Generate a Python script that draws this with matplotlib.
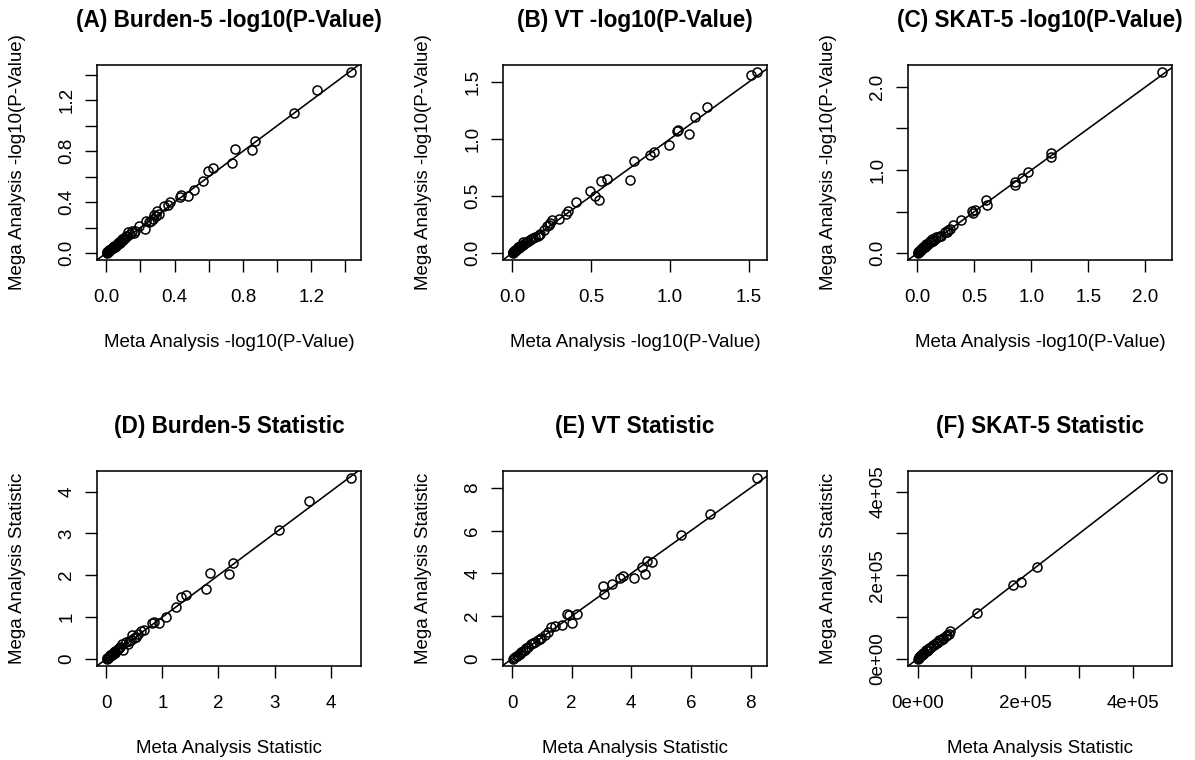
import matplotlib
matplotlib.use("Agg")
import matplotlib.pyplot as plt

plt.rcParams['font.family'] = ['Liberation Sans', 'DejaVu Sans']

# ---------------- data ----------------
A_meta = [1.434, 1.235, 1.100, 0.869, 0.851, 0.753, 0.734, 0.626, 0.595, 0.569,
          0.515, 0.476, 0.436, 0.430, 0.374, 0.362, 0.339, 0.309, 0.299, 0.290,
          0.280, 0.274, 0.260, 0.250, 0.231, 0.225, 0.192, 0.170, 0.162, 0.153,
          0.140, 0.129, 0.120, 0.114, 0.105, 0.094, 0.085, 0.074, 0.066, 0.060,
          0.055, 0.048, 0.042, 0.035, 0.030, 0.025, 0.020, 0.016, 0.012, 0.008,
          0.006, 0.003, 0.110, 0.098, 0.088, 0.078, 0.070, 0.052, 0.044, 0.038,
          0.028, 0.022, 0.018, 0.010, 0.004]
A_mega = [1.421, 1.282, 1.099, 0.879, 0.813, 0.818, 0.708, 0.666, 0.648, 0.569,
          0.498, 0.451, 0.459, 0.443, 0.399, 0.378, 0.367, 0.307, 0.333, 0.294,
          0.300, 0.268, 0.254, 0.240, 0.254, 0.189, 0.215, 0.170, 0.157, 0.176,
          0.150, 0.168, 0.130, 0.136, 0.120, 0.110, 0.098, 0.084, 0.080, 0.066,
          0.058, 0.055, 0.045, 0.037, 0.034, 0.028, 0.022, 0.018, 0.015, 0.010,
          0.006, 0.002, 0.118, 0.104, 0.092, 0.080, 0.072, 0.050, 0.048, 0.040,
          0.030, 0.020, 0.024, 0.012, 0.008]

B_meta = [1.553, 1.515, 1.235, 1.157, 1.117, 1.049, 1.044, 0.992, 0.896, 0.871,
          0.771, 0.748, 0.600, 0.561, 0.547, 0.521, 0.494, 0.403, 0.350, 0.341,
          0.297, 0.250, 0.240, 0.229, 0.218, 0.200, 0.176, 0.168, 0.159, 0.145,
          0.133, 0.120, 0.112, 0.100, 0.090, 0.080, 0.070, 0.059, 0.050, 0.045,
          0.038, 0.030, 0.025, 0.017, 0.010, 0.006, 0.002, 0.065, 0.055, 0.042,
          0.034, 0.020, 0.014, 0.004]
B_mega = [1.585, 1.558, 1.281, 1.193, 1.044, 1.082, 1.067, 0.950, 0.883, 0.863,
          0.810, 0.643, 0.649, 0.635, 0.462, 0.497, 0.541, 0.450, 0.365, 0.342,
          0.298, 0.287, 0.262, 0.249, 0.234, 0.200, 0.170, 0.160, 0.146, 0.140,
          0.132, 0.125, 0.117, 0.105, 0.095, 0.085, 0.094, 0.073, 0.060, 0.050,
          0.053, 0.035, 0.028, 0.029, 0.015, 0.008, 0.006, 0.070, 0.062, 0.044,
          0.040, 0.022, 0.018, 0.002]

C_meta = [2.147, 1.170, 1.170, 0.974, 0.915, 0.856, 0.856, 0.601, 0.613, 0.504,
          0.490, 0.475, 0.381, 0.308, 0.284, 0.270, 0.255, 0.240, 0.211, 0.195,
          0.180, 0.167, 0.150, 0.140, 0.132, 0.120, 0.109, 0.095, 0.079, 0.070,
          0.060, 0.050, 0.040, 0.030, 0.021, 0.015, 0.008, 0.003, 0.088, 0.065,
          0.045, 0.035, 0.025, 0.012]
C_mega = [2.177, 1.205, 1.153, 0.980, 0.900, 0.859, 0.819, 0.643, 0.582, 0.522,
          0.482, 0.510, 0.402, 0.337, 0.289, 0.280, 0.257, 0.250, 0.209, 0.200,
          0.190, 0.189, 0.165, 0.150, 0.169, 0.130, 0.141, 0.110, 0.108, 0.085,
          0.072, 0.068, 0.052, 0.040, 0.028, 0.020, 0.010, 0.004, 0.095, 0.075,
          0.058, 0.045, 0.030, 0.016]

D_meta = [4.370, 3.612, 3.075, 2.251, 2.191, 1.851, 1.773, 1.415, 1.325, 1.236,
          1.057, 0.937, 0.848, 0.806, 0.669, 0.609, 0.560, 0.490, 0.460, 0.430,
          0.400, 0.340, 0.293, 0.281, 0.250, 0.209, 0.180, 0.150, 0.131, 0.110,
          0.090, 0.070, 0.042, 0.025, 0.012, 0.520, 0.380, 0.230, 0.160, 0.100,
          0.060, 0.035, 0.005]
D_mega = [4.320, 3.784, 3.080, 2.280, 2.040, 2.056, 1.680, 1.520, 1.480, 1.240,
          1.000, 0.856, 0.880, 0.856, 0.680, 0.664, 0.600, 0.504, 0.560, 0.456,
          0.420, 0.400, 0.216, 0.344, 0.280, 0.240, 0.200, 0.180, 0.160, 0.120,
          0.104, 0.080, 0.040, 0.030, 0.000, 0.530, 0.360, 0.250, 0.150, 0.090,
          0.070, 0.020, 0.010]

E_meta = [8.225, 6.648, 5.679, 4.699, 4.530, 4.361, 4.451, 4.079, 3.718, 3.628,
          3.346, 3.065, 3.087, 2.186, 1.915, 1.848, 1.994, 1.690, 1.431, 1.318,
          1.093, 0.980, 0.868, 0.755, 0.642, 0.530, 0.417, 0.304, 0.250, 0.192,
          0.113, 0.060, 0.023, 1.200, 0.920, 0.700, 0.470, 0.360, 0.150]
E_mega = [8.456, 6.786, 5.819, 4.524, 4.602, 4.321, 3.978, 3.791, 3.869, 3.791,
          3.510, 3.401, 3.011, 2.106, 2.028, 2.075, 1.669, 1.560, 1.513, 1.482,
          1.092, 0.983, 0.889, 0.780, 0.671, 0.546, 0.421, 0.312, 0.230, 0.156,
          0.078, 0.040, 0.000, 1.250, 0.940, 0.720, 0.490, 0.370, 0.120]

F_meta = [453400, 220500, 192500, 177000, 109900, 60200, 59000, 55000, 52800, 48000,
          46600, 40400, 38000, 34200, 31000, 28000, 25000, 21700, 19000, 15500,
          12000, 9300, 6000, 4300, 2000, 500, 44000, 36000, 23000, 17000,
          10500, 7500, 3200]
F_mega = [432000, 218400, 184000, 177600, 109600, 66400, 60000, 58000, 53600, 50000,
          48000, 44000, 40000, 38400, 34000, 32000, 28000, 26400, 22000, 20000,
          15000, 12000, 8000, 6400, 3000, 0, 46000, 38000, 25000, 18000,
          13000, 9000, 4000]

titles = ["(A) Burden-5 -log10(P-Value)", "(B) VT -log10(P-Value)",
          "(C) SKAT-5 -log10(P-Value)", "(D) Burden-5 Statistic",
          "(E) VT Statistic", "(F) SKAT-5 Statistic"]
xlabels = ["Meta Analysis -log10(P-Value)"] * 3 + ["Meta Analysis Statistic"] * 3
ylabels = ["Mega Analysis -log10(P-Value)"] * 3 + ["Mega Analysis Statistic"] * 3

A_ticks = [0.0, 0.2, 0.4, 0.6, 0.8, 1.0, 1.2, 1.4]
A_xlab = ["0.0", "", "0.4", "", "0.8", "", "1.2", ""]
A_ylab = ["0.0", "", "0.4", "", "0.8", "", "1.2", ""]
B_ticks = [0.0, 0.5, 1.0, 1.5]
B_xlab = ["0.0", "0.5", "1.0", "1.5"]
B_ylab = ["0.0", "0.5", "1.0", "1.5"]
C_ticks = [0.0, 0.5, 1.0, 1.5, 2.0]
C_xlab = ["0.0", "0.5", "1.0", "1.5", "2.0"]
C_ylab = ["0.0", "", "1.0", "", "2.0"]
D_ticks = [0, 1, 2, 3, 4]
D_xlab = ["0", "1", "2", "3", "4"]
D_ylab = ["0", "1", "2", "3", "4"]
E_ticks = [0, 2, 4, 6, 8]
E_xlab = ["0", "2", "4", "6", "8"]
E_ylab = ["0", "2", "4", "6", "8"]
F_ticks = [0, 100000, 200000, 300000, 400000]
F_xlab = ["0e+00", "", "2e+05", "", "4e+05"]
F_ylab = ["0e+00", "", "2e+05", "", "4e+05"]

panels = [
    (A_meta, A_mega, A_ticks, A_xlab, A_ylab),
    (B_meta, B_mega, B_ticks, B_xlab, B_ylab),
    (C_meta, C_mega, C_ticks, C_xlab, C_ylab),
    (D_meta, D_mega, D_ticks, D_xlab, D_ylab),
    (E_meta, E_mega, E_ticks, E_xlab, E_ylab),
    (F_meta, F_mega, F_ticks, F_xlab, F_ylab),
]

# ---------------- layout ----------------
W, H = 1195, 760
fig = plt.figure(figsize=(W / 100, H / 100), dpi=100)
col_left = [97, 503, 908]
row_top = [65, 471]
aw, ah = 264, 195

FS = 13.5
TFS = 16.3


def rlim(v):
    lo, hi = min(v), max(v)
    r = hi - lo
    return lo - 0.04 * r, hi + 0.04 * r


for i, (xm, ym, ticks, xl, yl) in enumerate(panels):
    r, c = divmod(i, 3)
    left = col_left[c] / W
    bottom = 1 - (row_top[r] + ah) / H
    ax = fig.add_axes([left, bottom, aw / W, ah / H])
    ax.plot(xm, ym, linestyle='none', marker='o', markersize=6.5,
            markerfacecolor='none', markeredgecolor='black', markeredgewidth=1.1)
    ax.axline((0, 0), slope=1, color='black', linewidth=1.15)
    ax.set_xlim(*rlim(xm))
    ax.set_ylim(*rlim(ym))
    ax.set_xticks(ticks)
    ax.set_xticklabels(xl, fontsize=FS)
    ax.set_yticks(ticks)
    ax.set_yticklabels(yl, fontsize=FS, rotation=90, va='center')
    ax.tick_params(axis='x', direction='out', length=8.6, width=1.0, pad=12)
    ax.tick_params(axis='y', direction='out', length=8.6, width=1.0, pad=7)
    for s in ax.spines.values():
        s.set_linewidth(1.15)
    ax.set_title(titles[i], fontsize=TFS, fontweight='bold', pad=27)
    ax.set_xlabel(xlabels[i], fontsize=FS)
    ax.xaxis.set_label_coords(0.5, -74 / ah)
    ax.xaxis.label.set_va('top')
    ax.set_ylabel(ylabels[i], fontsize=FS)
    ax.yaxis.set_label_coords(-71 / aw, 0.5)
    ax.yaxis.label.set_va('bottom')

fig.savefig("out.png", dpi=100, facecolor='white')
